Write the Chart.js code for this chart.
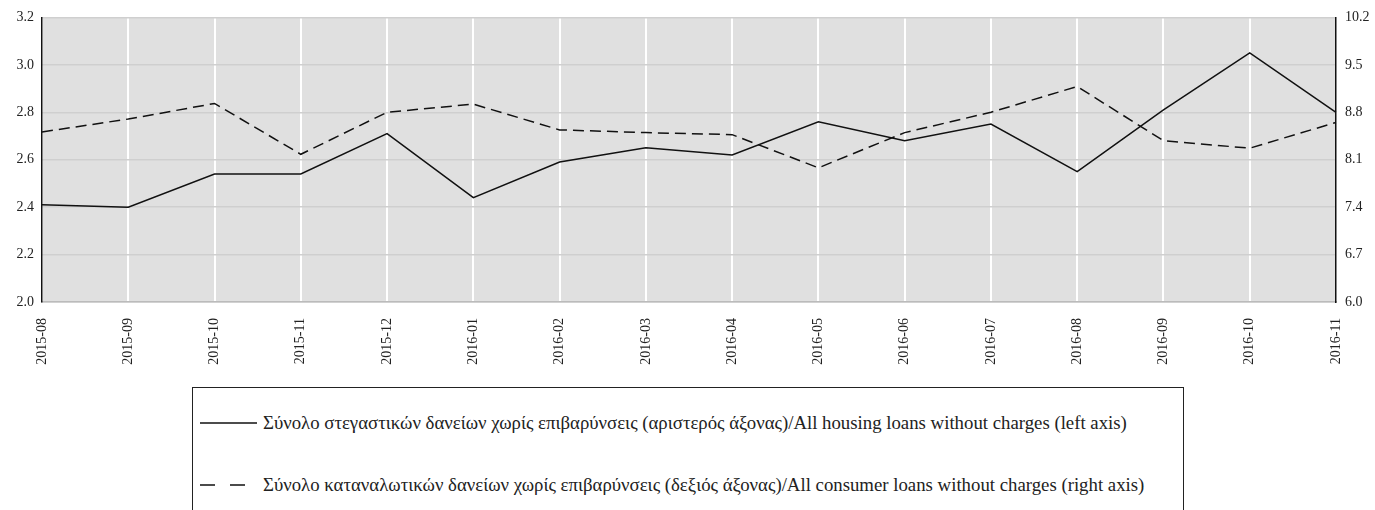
<!DOCTYPE html>
<html>
<head>
<meta charset="utf-8">
<script src="https://cdn.jsdelivr.net/npm/chart.js@4.4.0/dist/chart.umd.min.js"></script>
<style>
  body { margin: 0; background: #fff; width: 1375px; height: 510px; overflow: hidden; position: relative; }
  #wrap { position: absolute; left: 0; top: 0; width: 1375px; height: 380px; }
  #legend {
    position: absolute; left: 192px; top: 387px; width: 992px; height: 150px;
    border: 1.5px solid #222; box-sizing: border-box;
    font-family: "Liberation Serif", serif; font-size: 18.8px; color: #222;
  }
  .item { position: absolute; left: 7px; height: 22px; display: flex; align-items: center; white-space: nowrap; }
  .item svg { margin-right: 6px; }
</style>
</head>
<body>
<div id="wrap"><canvas id="lineChart"></canvas></div>
<div id="legend">
  <div class="item" style="top:24px">
    <svg width="57" height="4"><line x1="0" y1="2" x2="57" y2="2" stroke="#111" stroke-width="1.5"/></svg>
    <span>Σύνολο στεγαστικών δανείων χωρίς επιβαρύνσεις (αριστερός άξονας)/All housing loans without charges (left axis)</span>
  </div>
  <div class="item" style="top:86px">
    <svg width="57" height="4"><line x1="0" y1="2" x2="57" y2="2" stroke="#111" stroke-width="1.5" stroke-dasharray="15,15"/></svg>
    <span>Σύνολο καταναλωτικών δανείων χωρίς επιβαρύνσεις (δεξιός άξονας)/All consumer loans without charges (right axis)</span>
  </div>
</div>
<script>
const months = ['2015-08', '2015-09', '2015-10', '2015-11', '2015-12', '2016-01', '2016-02', '2016-03',
  '2016-04', '2016-05', '2016-06', '2016-07', '2016-08', '2016-09', '2016-10', '2016-11'];
const housing = [2.41, 2.40, 2.54, 2.54, 2.71, 2.44, 2.59, 2.65, 2.62, 2.76, 2.68, 2.75, 2.55, 2.81, 3.05, 2.80];
const consumer = [8.51, 8.70, 8.93, 8.18, 8.80, 8.92, 8.54, 8.50, 8.47, 7.98, 8.50, 8.80, 9.18, 8.38, 8.27, 8.65];

const tickFont = { family: 'Liberation Serif', size: 14 };

// grey plot background
const plotBg = {
  id: 'plotBg',
  beforeDraw(chart) {
    const a = chart.chartArea;
    const ctx = chart.ctx;
    ctx.save();
    ctx.fillStyle = '#e0e0e0';
    ctx.fillRect(a.left, a.top, a.right - a.left, a.bottom - a.top);
    ctx.restore();
  }
};

const ctx = document.getElementById('lineChart').getContext('2d');
new Chart(ctx, {
  type: 'line',
  data: {
    labels: months,
    datasets: [{
      label: 'housing',
      data: housing,
      yAxisID: 'y',
      borderColor: '#111',
      borderWidth: 1.5,
      pointRadius: 0,
      tension: 0
    }, {
      label: 'consumer',
      data: consumer,
      yAxisID: 'y2',
      borderColor: '#111',
      borderWidth: 1.5,
      borderDash: [11, 6],
      pointRadius: 0,
      tension: 0
    }]
  },
  options: {
    responsive: true,
    maintainAspectRatio: false,
    animation: false,
    layout: { padding: { top: 17, left: 0, right: 0, bottom: 0 } },
    plugins: { legend: { display: false }, tooltip: { enabled: false } },
    scales: {
      x: {
        offset: false,
        grid: { color: '#ffffff', lineWidth: 2, drawTicks: false },
        border: { color: '#bbbbbb', width: 1.5 },
        ticks: { color: '#222', font: tickFont, minRotation: 90, maxRotation: 90, padding: 16, autoSkip: false },
        afterFit(s) { s.height = 78; }
      },
      y: {
        position: 'left',
        min: 2.0, max: 3.2,
        grid: { color: '#cfcfcf', lineWidth: 1.5, drawTicks: false },
        border: { color: '#111', width: 1.5 },
        ticks: { stepSize: 0.2, color: '#222', font: tickFont, padding: 8, callback: v => Number(v).toFixed(1) },
        afterFit(s) { s.width = 42; }
      },
      y2: {
        position: 'right',
        min: 6.0, max: 10.2,
        grid: { display: false, drawTicks: false },
        border: { color: '#111', width: 1.5 },
        ticks: { stepSize: 0.7, color: '#222', font: tickFont, padding: 9, callback: v => Number(v).toFixed(1) },
        afterFit(s) { s.width = 39; }
      }
    }
  },
  plugins: [plotBg]
});
</script>
</body>
</html>
